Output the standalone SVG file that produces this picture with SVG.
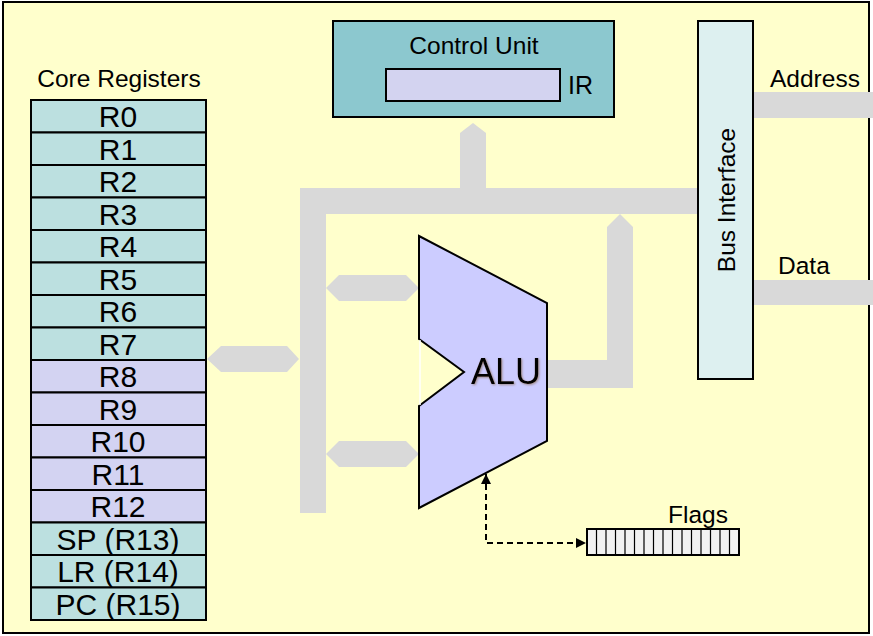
<svg xmlns="http://www.w3.org/2000/svg" width="873" height="636" viewBox="0 0 873 636">
<style>
text{font-family:"Liberation Sans",Arial,sans-serif;fill:#000}
.lbl{font-size:24.5px}
.reg{font-size:30px;text-anchor:middle}
.box{stroke:#000;stroke-width:2}
.bus{fill:#D9D9D9;stroke:none}
.cA{fill:#BCE0E0}
.cB{fill:#D3D3F2}
</style>
<defs>
<marker id="ah" viewBox="0 0 10 10" refX="10" refY="5" markerWidth="5" markerHeight="5" orient="auto-start-reverse"><path d="M0,0 L10,5 L0,10 z" fill="#000"/></marker>
<filter id="sh" x="-10%" y="-10%" width="130%" height="130%"><feDropShadow dx="1" dy="1" stdDeviation="0.8" flood-color="#806040" flood-opacity="0.6"/></filter>
</defs>
<rect x="3" y="2" width="866" height="631" fill="#FFFFCC" stroke="#000" stroke-width="2"/>

<g id="connectors">
<path class="bus" d="M300,188 H698 V214 H326 V513 H300 Z"/>
<path class="bus" d="M460,214 V133 L473,123 L486,133 V214 Z"/>
<path class="bus" d="M548,360 H607 V227 L620,214 L633,227 V388 H548 Z"/>
<path class="bus" d="M207,359 L221,346 H287 L299,359 L287,372 H221 Z"/>
<path class="bus" d="M326,288 L339,275 H406 L419,288 L406,301 H339 Z"/>
<path class="bus" d="M326,454 L339,441 H406 L419,454 L406,467 H339 Z"/>
<rect class="bus" x="753" y="92" width="120" height="26"/>
<rect class="bus" x="753" y="280" width="120" height="25"/>
<path d="M486,474 V543 H586" fill="none" stroke="#000" stroke-width="2" stroke-dasharray="6,4" marker-start="url(#ah)" marker-end="url(#ah)"/>
</g>

<g id="core-registers">
<text class="lbl" x="119" y="87" text-anchor="middle">Core Registers</text>
<g class="box">
<rect class="cA" x="31" y="100" width="175" height="32.5"/>
<rect class="cA" x="31" y="132.5" width="175" height="32.5"/>
<rect class="cA" x="31" y="165" width="175" height="32.5"/>
<rect class="cA" x="31" y="197.5" width="175" height="32.5"/>
<rect class="cA" x="31" y="230" width="175" height="32.5"/>
<rect class="cA" x="31" y="262.5" width="175" height="32.5"/>
<rect class="cA" x="31" y="295" width="175" height="32.5"/>
<rect class="cA" x="31" y="327.5" width="175" height="32.5"/>
<rect class="cB" x="31" y="360" width="175" height="32.5"/>
<rect class="cB" x="31" y="392.5" width="175" height="32.5"/>
<rect class="cB" x="31" y="425" width="175" height="32.5"/>
<rect class="cB" x="31" y="457.5" width="175" height="32.5"/>
<rect class="cB" x="31" y="490" width="175" height="32.5"/>
<rect class="cA" x="31" y="522.5" width="175" height="32.5"/>
<rect class="cA" x="31" y="555" width="175" height="32.5"/>
<rect class="cA" x="31" y="587.5" width="175" height="32.5"/>
</g>
<text class="reg" x="118" y="127">R0</text>
<text class="reg" x="118" y="159.5">R1</text>
<text class="reg" x="118" y="192">R2</text>
<text class="reg" x="118" y="224.5">R3</text>
<text class="reg" x="118" y="257">R4</text>
<text class="reg" x="118" y="289.5">R5</text>
<text class="reg" x="118" y="322">R6</text>
<text class="reg" x="118" y="354.5">R7</text>
<text class="reg" x="118" y="387">R8</text>
<text class="reg" x="118" y="419.5">R9</text>
<text class="reg" x="118" y="452">R10</text>
<text class="reg" x="118" y="484.5">R11</text>
<text class="reg" x="118" y="517">R12</text>
<text class="reg" x="118" y="549.5">SP (R13)</text>
<text class="reg" x="118" y="582">LR (R14)</text>
<text class="reg" x="118" y="614.5">PC (R15)</text>
</g>

<g id="control-unit">
<rect class="box" x="333" y="21" width="281" height="96" fill="#8CC8CF"/>
<text class="lbl" x="474" y="54" text-anchor="middle">Control Unit</text>
<rect class="box" x="386" y="69" width="174" height="32" fill="#D3D3F0"/>
<text x="568" y="94" font-size="25">IR</text>
</g>

<g id="bus-interface">
<rect class="box" x="698" y="21" width="55" height="358" fill="#DDF0F0"/>
<text class="lbl" transform="translate(735,200) rotate(-90)" text-anchor="middle">Bus Interface</text>
<text class="lbl" x="770" y="87">Address</text>
<text class="lbl" x="778" y="274">Data</text>
</g>

<g id="alu">
<path d="M419,236 L547,303 V441 L419,508 V406 L464,372 L419,339 Z" fill="#CCCCFF" stroke="#000" stroke-width="2"/>
<line x1="420" y1="340" x2="420" y2="405" stroke="#fff" stroke-width="1.5"/>
<text x="506" y="384" font-size="36" text-anchor="middle" filter="url(#sh)">ALU</text>
</g>

<g id="flags">
<text class="lbl" x="668" y="523">Flags</text>
<rect x="587" y="529" width="152" height="26" fill="#F2F2F2" stroke="#000" stroke-width="2"/>
<path d="M596.5,529V555M606,529V555M615.5,529V555M625,529V555M634.5,529V555M644,529V555M653.5,529V555M663,529V555M672.5,529V555M682,529V555M691.5,529V555M701,529V555M710.5,529V555M720,529V555M729.5,529V555" stroke="#000" stroke-width="1.2"/>
</g>
</svg>
